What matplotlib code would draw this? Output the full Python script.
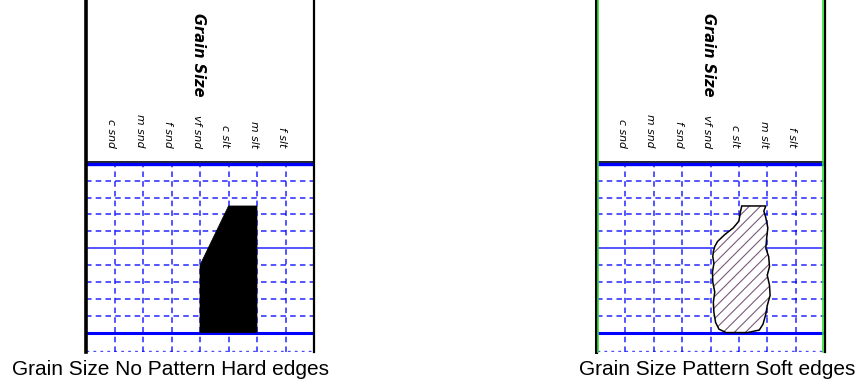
import matplotlib
matplotlib.use('Agg')
import matplotlib.pyplot as plt
from matplotlib.patches import Polygon

plt.rcParams['lines.scale_dashes'] = False
plt.rcParams['hatch.linewidth'] = 0.8

# grain size columns
grain_labels = ["c snd", "m snd", "f snd", "vf snd", "c slt", "m slt", "f slt"]
title = "Grain Size"
captions = ["Grain Size No Pattern Hard edges", "Grain Size Pattern Soft edges"]

# hard edged profile (column units, row units)
hard_x = [4.0, 6.0, 6.0, 5.0, 4.0, 4.0]
hard_y = [0.0, 0.0, 7.5, 7.5, 4.0, 0.0]

# soft edged profile
soft_x = [5.1, 5.95, 5.88, 5.95, 6.02, 5.98, 5.95, 6.05, 6.08, 6.0, 6.08, 6.1, 6.0,
          5.95, 5.85, 5.72, 5.3, 4.55, 4.3, 4.18, 4.12, 4.1, 4.15, 4.08, 4.07, 4.12,
          4.08, 4.1, 4.15, 4.25, 4.5, 4.8, 5.0, 5.05]
soft_y = [7.5, 7.5, 7.2, 6.8, 6.2, 5.6, 5.0, 4.5, 3.9, 3.4, 2.8, 2.2, 1.6, 1.1,
          0.5, 0.15, 0.0, 0.0, 0.2, 0.6, 1.2, 1.8, 2.4, 3.0, 3.6, 4.1, 4.5, 4.8,
          5.1, 5.4, 5.8, 6.2, 6.6, 7.1]

W, H = 857, 383
fig = plt.figure(figsize=(W / 100, H / 100), dpi=100)

panels = [(86, 314), (597, 824)]
blue = '#0000ff'
dash = (0, (4, 3))

for i, (x0, x1) in enumerate(panels):
    ax = fig.add_axes([x0 / W, 31 / H, (x1 - x0) / W, 352 / H])
    ax.set_xlim(0, 8)
    ax.set_ylim(-1.15, 19.7)
    ax.axis('off')

    # grid
    for gx in range(1, 8):
        ax.plot([gx, gx], [-1.15, 10], color=blue, lw=1.1, ls=dash, alpha=0.85)
    for gy in range(1, 10):
        if gy == 5:
            ax.plot([0, 8], [gy, gy], color=blue, lw=1.1, alpha=0.85)
        else:
            ax.plot([0, 8], [gy, gy], color=blue, lw=1.1, ls=dash, alpha=0.85)
    ax.plot([0, 8], [0, 0], color=blue, lw=2.2)
    ax.plot([0, 8], [-1.1, -1.1], color=blue, lw=1.0, ls=(0, (2, 3)), alpha=0.7)
    ax.plot([0, 8], [10.12, 10.12], color='black', lw=1.2)
    ax.plot([0, 8], [10, 10], color=blue, lw=2.4)

    # borders
    if i == 0:
        ax.plot([0, 0], [-1.15, 19.7], color='black', lw=2.6, clip_on=False)
        ax.plot([8, 8], [-1.15, 19.7], color='black', lw=1.6, clip_on=False)
    else:
        ax.plot([-0.04, -0.04], [-1.15, 19.7], color='black', lw=2.2, clip_on=False)
        ax.plot([0.04, 0.04], [-1.15, 19.7], color='#33dd33', lw=1.2, clip_on=False)
        ax.plot([8.04, 8.04], [-1.15, 19.7], color='black', lw=1.6, clip_on=False)
        ax.plot([7.96, 7.96], [-1.15, 19.7], color='#33dd33', lw=1.2, clip_on=False)

    # header text
    ax.text(3.93, 18.95, title, rotation=-90, ha='center', va='top',
            fontsize=10.5, fontweight='bold', fontstyle='italic')
    for k, lab in enumerate(grain_labels):
        ax.text(k + 1 - 0.12, 10.95, lab, rotation=-90, ha='center', va='bottom',
                fontsize=7.8, fontstyle='italic')

    # profile
    if i == 0:
        ax.add_patch(Polygon(list(zip(hard_x, hard_y)), closed=True,
                             facecolor='black', edgecolor='black', lw=0.5, zorder=3))
    else:
        pts = list(zip(soft_x, soft_y))
        ax.add_patch(Polygon(pts, closed=True, facecolor='white', edgecolor='#7a5a7a',
                             hatch='///', lw=0, zorder=3))
        ax.add_patch(Polygon(pts, closed=True, facecolor='none', edgecolor='black',
                             lw=1.1, zorder=4))

fig.text(12 / W, 8 / H, captions[0], fontsize=15, family='Liberation Sans',
         ha='left', va='baseline')
fig.text(855 / W, 8 / H, captions[1], fontsize=15, family='Liberation Sans',
         ha='right', va='baseline')

fig.savefig('out.png', dpi=100)
